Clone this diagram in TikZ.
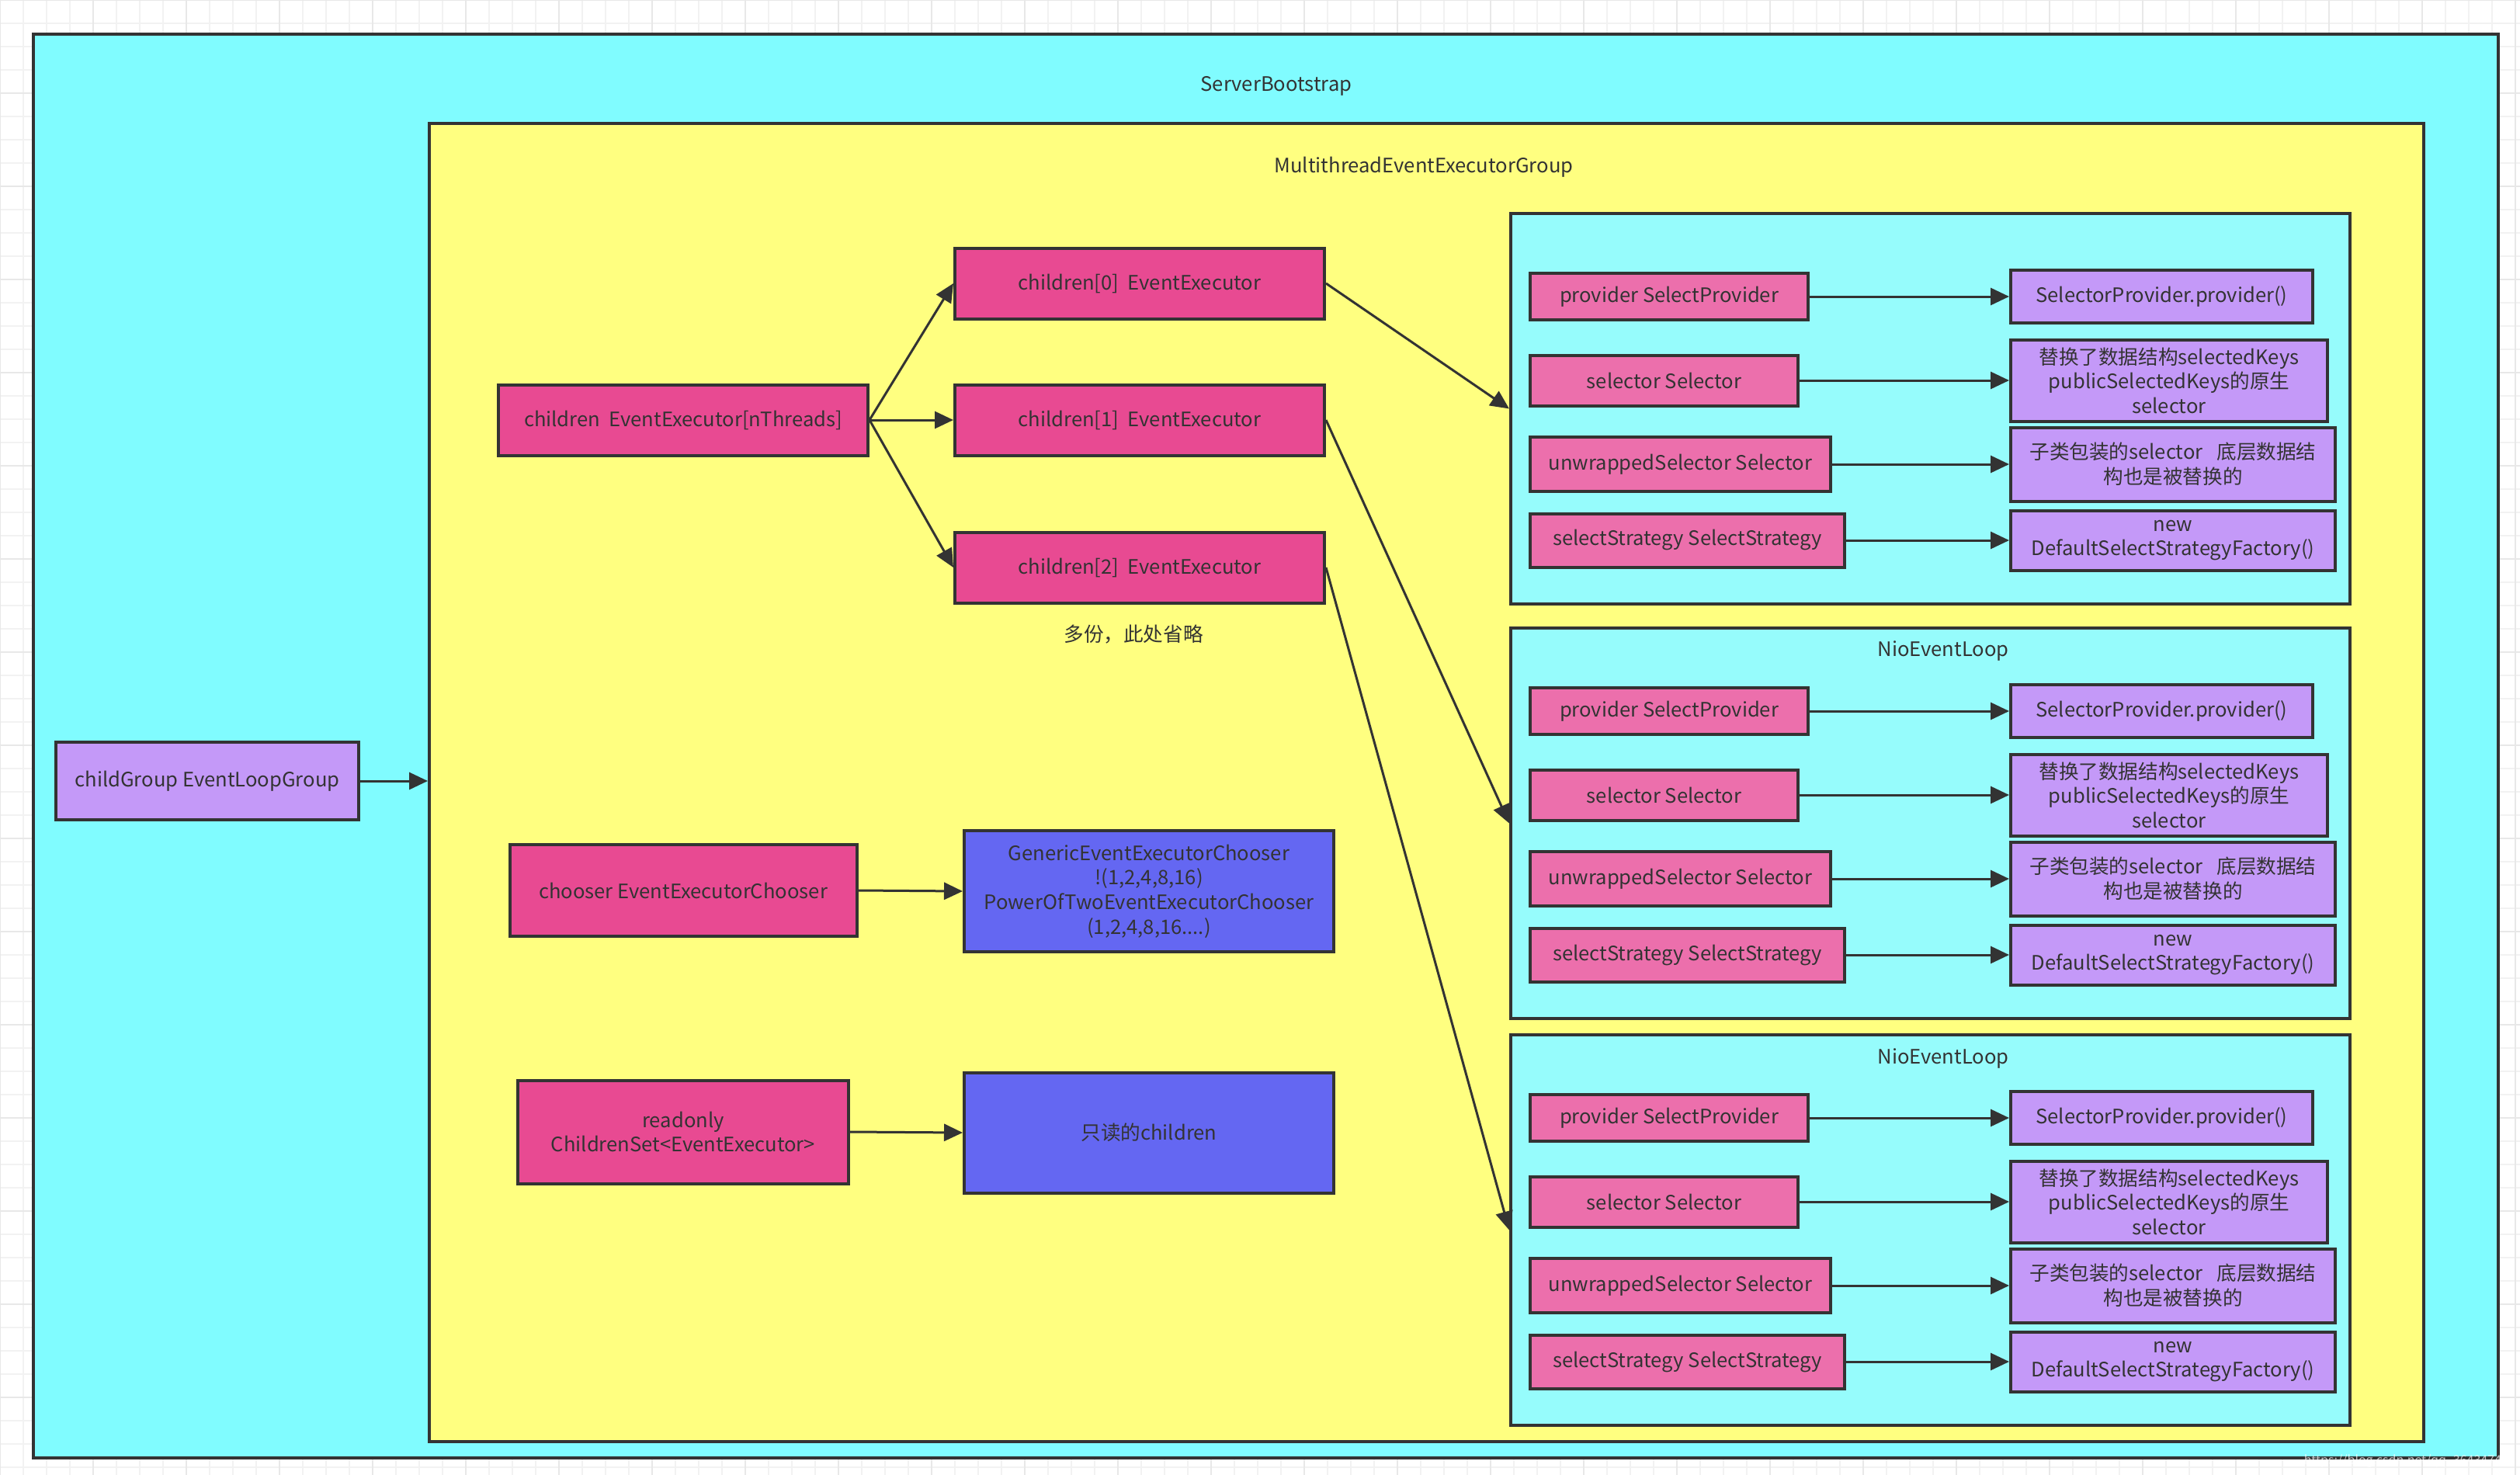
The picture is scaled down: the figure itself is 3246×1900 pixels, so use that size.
\documentclass[tikz,border=0pt]{standalone}
\usepackage{fontspec}
\setmainfont{Noto Sans CJK SC}
\usetikzlibrary{arrows.meta,calc}
\definecolor{bgcyan}{HTML}{80FCFF}
\definecolor{bgyellow}{HTML}{FFFF80}
\definecolor{loopcyan}{HTML}{96FCFC}
\definecolor{darkpink}{HTML}{E84A92}
\definecolor{lightpink}{HTML}{EC6FAC}
\definecolor{lavender}{HTML}{C499F8}
\definecolor{bluebox}{HTML}{6467F2}
\definecolor{edgec}{HTML}{333333}
\newcommand{\LoopRows}[2]{%
  \node[pinkrow, minimum width=179pt, minimum height=30pt] (prov#1) at (1969,{#2+109}) {provider SelectProvider};
  \node[purprow, minimum width=194.5pt, minimum height=34pt] (provv#1) at (2588,{#2+109}) {SelectorProvider.provider()};
  \node[pinkrow, minimum width=172.5pt, minimum height=32.5pt] (sel#1) at (1969,{#2+217}) {selector Selector};
  \node[purprow, minimum width=204pt, minimum height=52.5pt] (selv#1) at (2588,{#2+217}) {替换了数据结构selectedKeys\\publicSelectedKeys的原生\\selector};
  \node[pinkrow, minimum width=193.5pt, minimum height=35pt] (unw#1) at (1969,{#2+325}) {unwrappedSelector Selector};
  \node[purprow, minimum width=209pt, minimum height=47.5pt] (unwv#1) at (2588,{#2+325}) {子类包装的selector\hspace{0.7em}底层数据结\\构也是被替换的};
  \node[pinkrow, minimum width=202.5pt, minimum height=34.5pt] (str#1) at (1969,{#2+423}) {selectStrategy SelectStrategy};
  \node[purprow, minimum width=209pt, minimum height=38.5pt] (strv#1) at (2588,{#2+423}) {new\\DefaultSelectStrategyFactory()};
  \draw[arr] (prov#1.east) -- (prov#1.east -| provv#1.west);
  \draw[arr] (sel#1.east) -- (sel#1.east -| selv#1.west);
  \draw[arr] (unw#1.east) -- (unw#1.east -| unwv#1.west);
  \draw[arr] (str#1.east) -- (str#1.east -| strv#1.west);
}
\begin{document}
\begin{tikzpicture}[x=0.5pt,y=-0.5pt,
  font=\fontsize{12.8}{15.8}\selectfont,
  box/.style={draw=edgec, line width=2pt, align=center, inner sep=0pt, text=edgec},
  container/.style={draw=edgec, line width=2pt, inner sep=0pt, anchor=north west},
  darkbox/.style={box, fill=darkpink},
  pinkrow/.style={box, fill=lightpink, anchor=west},
  purprow/.style={box, fill=lavender, anchor=west},
  bluenode/.style={box, fill=bluebox},
  lbl/.style={text=edgec, inner sep=0pt},
  arr/.style={draw=edgec, line width=1.5pt, -{Triangle[length=12pt,width=11pt]}}
]
\useasboundingbox (0,0) rectangle (3246,1900);
\fill[white] (0,0) rectangle (3246,1900);
\draw[black!5, line width=0.6pt, xstep=15pt, ystep=15pt] (0,0) grid (3246,1900);
\draw[black!9, line width=1pt, xstep=60pt, ystep=60pt] (0,0) grid (3246,1900);

% containers
\node[container, fill=bgcyan, minimum width=1587.5pt, minimum height=917pt] (sb) at (41,42) {};
\node[container, fill=bgyellow, minimum width=1284.5pt, minimum height=849pt] (mt) at (551,157) {};
\node[container, fill=loopcyan, minimum width=540.5pt, minimum height=251.5pt] (loop1) at (1944,273) {};
\node[container, fill=loopcyan, minimum width=540.5pt, minimum height=251.5pt] (loop2) at (1944,807) {};
\node[container, fill=loopcyan, minimum width=540.5pt, minimum height=251.5pt] (loop3) at (1944,1331) {};

\node[lbl] (sbl) at (1644,111) {ServerBootstrap};
\node[lbl] (mtl) at (1834,215) {MultithreadEventExecutorGroup};
\node[lbl] (l2l) at (2503,839) {NioEventLoop};
\node[lbl] (l3l) at (2503,1363) {NioEventLoop};

% left part
\node[box, fill=lavender, minimum width=195pt, minimum height=50pt] (cg) at (267,1006) {childGroup EventLoopGroup};
\node[darkbox, minimum width=238pt, minimum height=45.5pt] (arrn) at (880,541) {children\ \ EventExecutor[nThreads]};
\node[darkbox, minimum width=238pt, minimum height=45.5pt] (c0) at (1468,365) {children[0]\ \ EventExecutor};
\node[darkbox, minimum width=238pt, minimum height=45.5pt] (c1) at (1468,541) {children[1]\ \ EventExecutor};
\node[darkbox, minimum width=238pt, minimum height=45.5pt] (c2) at (1468,731) {children[2]\ \ EventExecutor};
\node[lbl] (more) at (1460,817) {多份，此处省略};
\node[darkbox, minimum width=223.5pt, minimum height=59pt] (ch) at (880,1147) {chooser EventExecutorChooser};
\node[bluenode, minimum width=238pt, minimum height=78pt] (gen) at (1480,1148) {GenericEventExecutorChooser\\!(1,2,4,8,16)\\PowerOfTwoEventExecutorChooser\\(1,2,4,8,16....)};
\node[darkbox, minimum width=213pt, minimum height=66.5pt] (ro) at (880,1458) {readonly\\ChildrenSet<EventExecutor>};
\node[bluenode, minimum width=238pt, minimum height=77.5pt] (ron) at (1480,1459) {只读的children};

\draw[arr] (cg.east) -- (cg.east -| mt.west);
\draw[arr] (arrn.east) -- (c0.west);
\draw[arr] (arrn.east) -- (c1.west);
\draw[arr] (arrn.east) -- (c2.west);
\draw[arr] (ch.east) -- (gen.west);
\draw[arr] (ro.east) -- (ron.west);
\draw[arr] (c0.east) -- (loop1.west);
\draw[arr] (c1.east) -- (loop2.west);
\draw[arr] (c2.east) -- (loop3.west);

\LoopRows{a}{273}
\LoopRows{b}{807}
\LoopRows{c}{1331}

\node[text=white, opacity=0.7, font=\fontsize{8}{9}\selectfont, anchor=east] (wm) at (3238,1882) {https://blog.csdn.net/qq\_36434742};
\end{tikzpicture}
\end{document}
